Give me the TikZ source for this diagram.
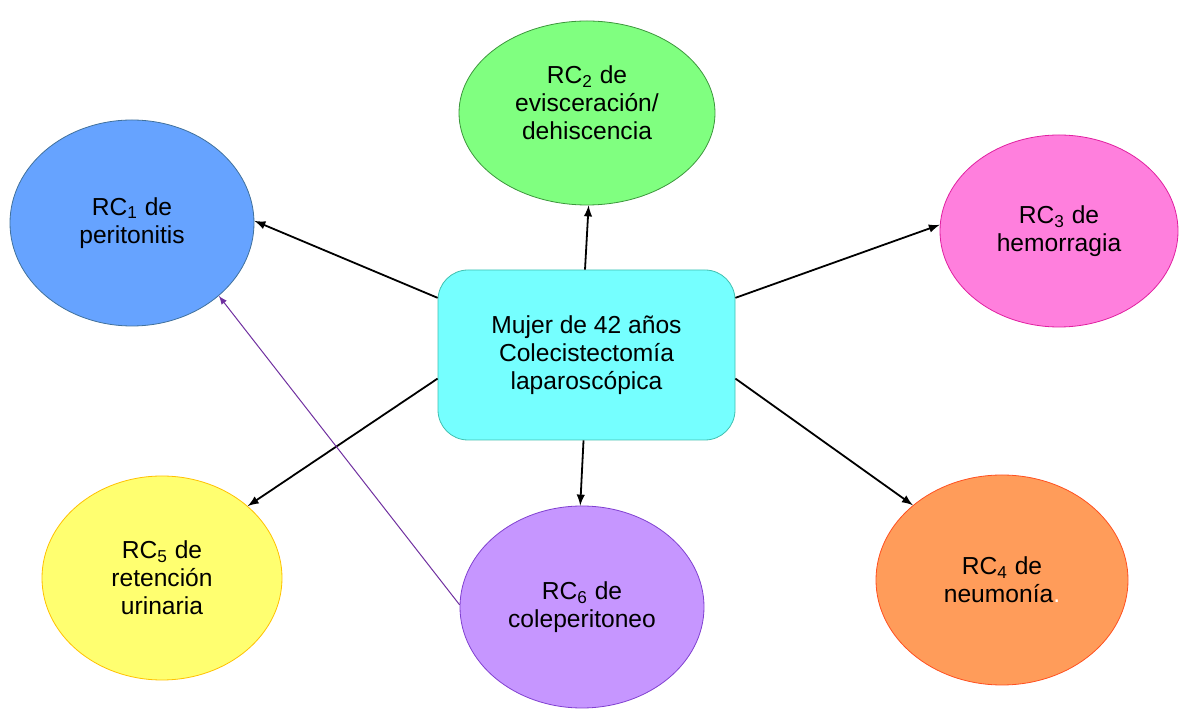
\documentclass[tikz,border=0pt]{standalone}
\usepackage{fontspec}
\setmainfont{Liberation Sans}
\usepackage{tikz}
\definecolor{cielo}{RGB}{117,255,255}
\definecolor{cielorand}{RGB}{64,192,176}
\definecolor{azul}{RGB}{102,163,255}
\definecolor{azulrand}{RGB}{65,113,156}
\definecolor{verde}{RGB}{128,255,128}
\definecolor{verderand}{RGB}{60,150,60}
\definecolor{rosa}{RGB}{255,127,221}
\definecolor{rosarand}{RGB}{224,32,160}
\definecolor{amarillo}{RGB}{255,255,112}
\definecolor{amarillorand}{RGB}{255,192,0}
\definecolor{lila}{RGB}{198,150,255}
\definecolor{lilarand}{RGB}{128,64,208}
\definecolor{naranja}{RGB}{255,156,90}
\definecolor{naranjarand}{RGB}{255,80,32}
\definecolor{violeta}{RGB}{112,48,160}
\usetikzlibrary{shapes,arrows}

\begin{document}
\begin{tikzpicture}[x=0.5pt, y=-0.5pt,
				>=latex,   %Pfeilspitzen
				font=\fontsize{12.3}{14}\selectfont,
				riesgo/.style={ellipse, draw, align=center, inner sep=0pt},
				flecha/.style={->, line width=0.9pt, black},
				reingreso/.style={->, line width=0.5pt, violeta}]
				%Bildbereich
				\useasboundingbox (0,0) rectangle (1179,710);
				% Zentrum
				\node[draw=cielorand, fill=cielo, rounded corners=15pt, align=center, minimum width=148.5pt, minimum height=85pt] (paciente) at (586.5,355) {Mujer de 42 años\\Colecistectomía\\laparoscópica};
				% Komplikationen
				\node[riesgo, fill=azul, draw=azulrand, minimum width=122pt, minimum height=103pt] (rc1) at (132,223) {RC\textsubscript{1} de\\peritonitis};
				\node[riesgo, fill=verde, draw=verderand, minimum width=128pt, minimum height=92pt, text depth=10pt] (rc2) at (587,113) {RC\textsubscript{2} de\\evisceración/\\dehiscencia};
				\node[riesgo, fill=rosa, draw=rosarand, minimum width=119pt, minimum height=96pt] (rc3) at (1059,231) {RC\textsubscript{3} de\\hemorragia};
				\node[riesgo, fill=naranja, draw=naranjarand, minimum width=126pt, minimum height=105pt] (rc4) at (1002,580) {RC\textsubscript{4} de\\neumonía\textcolor{white}{.}};
				\node[riesgo, fill=amarillo, draw=amarillorand, minimum width=120pt, minimum height=102pt] (rc5) at (162,578) {RC\textsubscript{5} de\\retención\\urinaria};
				\node[riesgo, fill=lila, draw=lilarand, minimum width=122pt, minimum height=101pt] (rc6) at (582,607) {RC\textsubscript{6} de\\coleperitoneo};
				% Pfeile
				\draw[flecha] (paciente.159) -- (rc1.1);
				\draw[flecha] (paciente.91) -- (rc2.271);
				\draw[flecha] (paciente.21) -- (rc3.177);
				\draw[flecha] (paciente.-9) -- (rc4.140);
				\draw[flecha] (paciente.268) -- (rc6.91);
				\draw[flecha] (paciente.189) -- (rc5.40);
				\draw[reingreso] (rc6.179) -- (rc1.320);
			\end{tikzpicture}
\end{document}
